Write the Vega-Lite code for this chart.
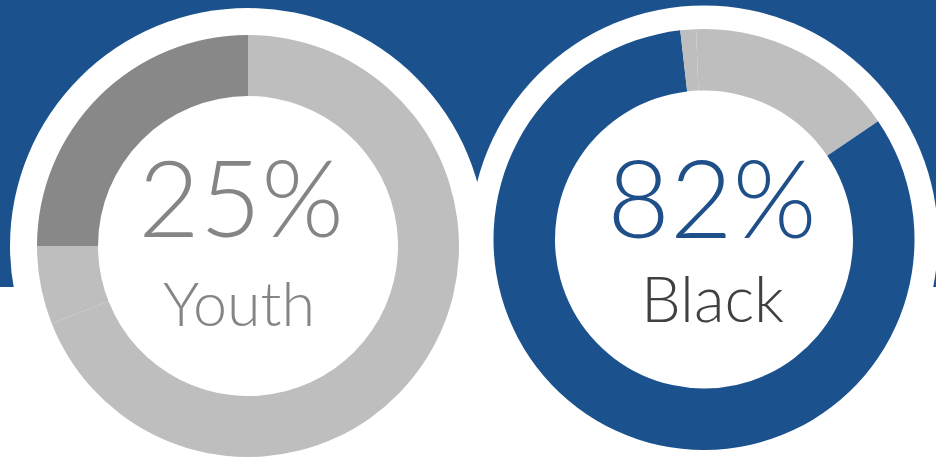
{
  "$schema": "https://vega.github.io/schema/vega-lite/v6.json",
  "width": 936,
  "height": 459,
  "autosize": "none",
  "padding": 0,
  "background": "#ffffff",
  "config": {"view": {"stroke": null}},
  "datasets": {
    "segments": [
      {"chart": "Youth", "part": "Other", "seq": 1, "share": 69},
      {"chart": "Youth", "part": "Other", "seq": 2, "share": 6},
      {"chart": "Youth", "part": "Youth", "seq": 3, "share": 25},
      {"chart": "Black", "part": "Other", "seq": 1, "share": 15.5},
      {"chart": "Black", "part": "Black", "seq": 2, "share": 82.7},
      {"chart": "Black", "part": "Other", "seq": 3, "share": 1.2},
      {"chart": "Black", "part": "Other", "seq": 4, "share": 0.6}
    ],
    "labels": [
      {"chart": "Youth", "pct": "25%", "name": "Youth"},
      {"chart": "Black", "pct": "82%", "name": "Black"}
    ]
  },
  "layer": [
    {
      "data": {"values": [{}]},
      "mark": {"type": "rect", "color": "#1b528d", "x": 0, "x2": 936, "y": 0, "y2": 287},
      "encoding": {}
    },
    {
      "data": {"name": "labels"},
      "transform": [{"filter": "datum.chart === 'Youth'"}],
      "mark": {"type": "arc", "color": "#ffffff", "theta": 0, "theta2": 6.2832, "radius": 238, "radius2": 0},
      "encoding": {
        "x": {"field": "chart", "type": "nominal", "scale": {"type": "point", "domain": ["Youth", "Black"], "range": [248, 704], "padding": 0}, "axis": null},
        "y": {"field": "chart", "type": "nominal", "scale": {"type": "point", "domain": ["Youth", "Black"], "range": [246, 239.5], "padding": 0}, "axis": null}
      }
    },
    {
      "data": {"name": "labels"},
      "transform": [{"filter": "datum.chart === 'Black'"}],
      "mark": {"type": "arc", "color": "#ffffff", "theta": 0, "theta2": 6.2832, "radius": 234, "radius2": 0},
      "encoding": {
        "x": {"field": "chart", "type": "nominal"},
        "y": {"field": "chart", "type": "nominal"}
      }
    },
    {
      "data": {"name": "segments"},
      "transform": [{"filter": "datum.chart === 'Youth'"}],
      "mark": {"type": "arc", "radius": 211, "radius2": 150},
      "encoding": {
        "x": {"field": "chart", "type": "nominal"},
        "y": {"field": "chart", "type": "nominal"},
        "theta": {"field": "share", "type": "quantitative", "stack": true},
        "order": {"field": "seq", "type": "quantitative"},
        "color": {"field": "part", "type": "nominal", "scale": {"domain": ["Youth", "Black", "Other"], "range": ["#888888", "#1b528d", "#bebebe"]}, "legend": null}
      }
    },
    {
      "data": {"name": "segments"},
      "transform": [{"filter": "datum.chart === 'Black'"}],
      "mark": {"type": "arc", "radius": 210.5, "radius2": 149},
      "encoding": {
        "x": {"field": "chart", "type": "nominal"},
        "y": {"field": "chart", "type": "nominal"},
        "theta": {"field": "share", "type": "quantitative", "stack": true},
        "order": {"field": "seq", "type": "quantitative"},
        "color": {"field": "part", "type": "nominal", "legend": null}
      }
    },
    {
      "data": {"name": "labels"},
      "transform": [{"filter": "datum.chart === 'Youth'"}],
      "mark": {"type": "text", "font": "Lato", "fontWeight": 300, "fontSize": 106, "color": "#858585", "align": "center", "baseline": "alphabetic", "dx": -7, "dy": -9},
      "encoding": {
        "x": {"field": "chart", "type": "nominal"},
        "y": {"field": "chart", "type": "nominal"},
        "text": {"field": "pct"}
      }
    },
    {
      "data": {"name": "labels"},
      "transform": [{"filter": "datum.chart === 'Youth'"}],
      "mark": {"type": "text", "font": "Lato", "fontWeight": 300, "fontSize": 61, "color": "#858585", "align": "center", "baseline": "alphabetic", "dx": -9, "dy": 80},
      "encoding": {
        "x": {"field": "chart", "type": "nominal"},
        "y": {"field": "chart", "type": "nominal"},
        "text": {"field": "name"}
      }
    },
    {
      "data": {"name": "labels"},
      "transform": [{"filter": "datum.chart === 'Black'"}],
      "mark": {"type": "text", "font": "Lato", "fontWeight": 300, "fontSize": 108, "color": "#1f4f88", "align": "center", "baseline": "alphabetic", "dx": 8, "dy": -1.5},
      "encoding": {
        "x": {"field": "chart", "type": "nominal"},
        "y": {"field": "chart", "type": "nominal"},
        "text": {"field": "pct"}
      }
    },
    {
      "data": {"name": "labels"},
      "transform": [{"filter": "datum.chart === 'Black'"}],
      "mark": {"type": "text", "font": "Lato", "fontWeight": 300, "fontSize": 63, "color": "#404040", "align": "center", "baseline": "alphabetic", "dx": 8.5, "dy": 82.5},
      "encoding": {
        "x": {"field": "chart", "type": "nominal"},
        "y": {"field": "chart", "type": "nominal"},
        "text": {"field": "name"}
      }
    }
  ]
}
